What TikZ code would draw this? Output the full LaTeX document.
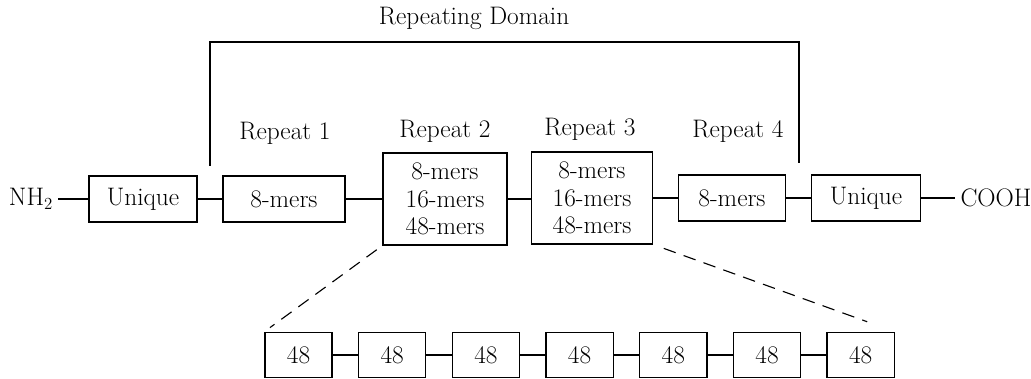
\documentclass[tikz,border=0pt]{standalone}
\usepackage{tikz}
\usetikzlibrary{positioning, calc}
\tikzset{
  seg/.style={rectangle, draw=black, line width=0.8pt, inner sep=0pt,
              minimum width=#1, minimum height=1.15cm, align=center},
  seg/.default=2.7cm,
  rbox/.style={rectangle, draw=black, line width=0.8pt, inner sep=0pt,
               minimum width=#1, minimum height=2.3cm, align=center},
  sbox/.style={rectangle, draw=black, line width=0.9pt, inner sep=0pt,
               minimum width=1.68cm, minimum height=1.13cm},
  lbl/.style={inner sep=1pt},
  tip/.style={inner sep=3.5pt},
  link/.style={line width=0.8pt},
  zoomln/.style={line width=0.8pt, dash pattern=on 9pt off 6pt},
}

\begin{document}
\begin{tikzpicture}[x=0.025cm, y=-0.025cm,
  font=\fontsize{18}{19.5}\selectfont]
  \useasboundingbox (0,0) rectangle (1031,379);

  % main chain
  \node[tip] (nh) at (31,199) {NH$_2$};
  \node[seg=2.7cm] (u1) at (143,199) {Unique};
  \node[seg=3.05cm] (r1) at (284,199) {8-mers};
  \node[rbox=3.1cm] (r2) at (445,199) {8-mers\\16-mers\\48-mers};
  \node[rbox=3.03cm] (r3) at (592,198) {8-mers\\16-mers\\48-mers};
  \node[seg=2.68cm] (r4) at (732,198) {8-mers};
  \node[seg=2.72cm] (u2) at (866,198) {Unique};
  \node[tip] (co) at (996,198) {COOH};

  \foreach \a/\b in {nh/u1, u1/r1, r1/r2, r2/r3, r3/r4, r4/u2, u2/co}
    \draw[link] (\a.east) -- (\a.east -| \b.west);

  % repeat labels
  \node[lbl] (l1) at (285,133) {Repeat 1};
  \node[lbl] (l2) at (445,131) {Repeat 2};
  \node[lbl] (l3) at (590,129) {Repeat 3};
  \node[lbl] (l4) at (738,131) {Repeat 4};

  % repeating domain bracket
  \node[lbl] (dom) at (474,18) {Repeating Domain};
  \draw[link] (210,166) -- (210,42) -- (799,42) -- (799,163);

  % expanded 48-mers
  \foreach \i in {1,...,7}
    \node[sbox] (b\i) at ({298.5+93.7*(\i-1)},355) {48};
  \foreach \i [evaluate=\i as \j using int(\i+1)] in {1,...,6}
    \draw[link] (b\i.east) -- (b\j.west);

  % zoom lines
  \draw[zoomln, shorten <=5pt, shorten >=5pt] (r2.south west) -- (b1.north west);
  \draw[zoomln, shorten <=8pt, shorten >=21pt] (r3.south east) -- (b7.north east);
\end{tikzpicture}
\end{document}
